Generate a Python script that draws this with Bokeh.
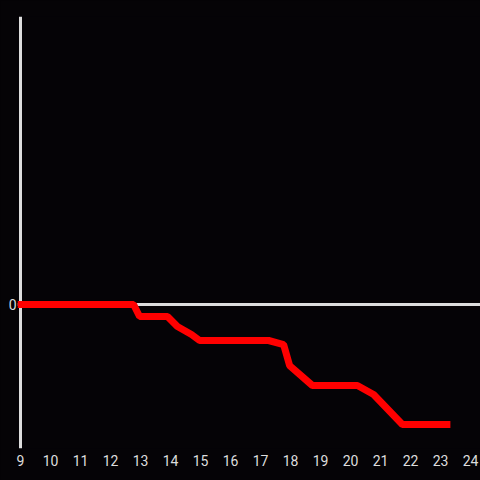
from bokeh.plotting import figure
from bokeh.models import Span, FixedTicker, Range1d
from bokeh.embed import file_html
from bokeh.resources import INLINE

# data
xs = [8.9, 12.77, 12.97, 13.9, 14.23, 14.7, 14.97, 17.27, 17.77, 17.97, 18.73, 20.23, 20.77, 21.73, 23.33]
ys = [0.0, 0.0, -0.083, -0.083, -0.153, -0.208, -0.25, -0.25, -0.278, -0.424, -0.5625, -0.5625, -0.625, -0.833, -0.833]
x_ticks = list(range(9, 25))
y_ticks = [0]

BG = "#050306"
FG = "#dddddd"

p = figure(width=480, height=480, output_backend="svg", toolbar_location=None,
           x_range=Range1d(8.9, 9 + 460 / 30), y_range=Range1d(-1, 2),
           min_border_left=17, min_border_top=16, min_border_right=0, min_border_bottom=32)
p.background_fill_color = BG
p.border_fill_color = BG
p.outline_line_color = None
p.grid.visible = False

zero = Span(location=0, dimension="width", line_color=FG, line_width=3, level="underlay")
p.add_layout(zero)
vline = Span(location=9, dimension="height", line_color=FG, line_width=3, level="underlay")
p.add_layout(vline)

p.line(xs, ys, line_color="#ff0000", line_width=7)

xa = p.xaxis[0]
xa.ticker = FixedTicker(ticks=x_ticks)
xa.axis_line_color = None
xa.major_tick_line_color = None
xa.major_tick_out = 0
xa.minor_tick_line_color = None
xa.major_label_standoff = 6
xa.major_label_text_color = FG
xa.major_label_text_font = "Roboto"
xa.major_label_text_font_size = "14px"

ya = p.yaxis[0]
ya.ticker = FixedTicker(ticks=y_ticks)
ya.axis_line_color = None
ya.major_tick_line_color = None
ya.major_tick_out = 0
ya.minor_tick_line_color = None
ya.major_label_standoff = 1
ya.major_label_text_color = FG
ya.major_label_text_font = "Roboto"
ya.major_label_text_font_size = "14px"

html = file_html(p, INLINE)
html = html.replace("<head>", "<head><style>html,body{background:%s;}</style>" % BG, 1)
open("out.html", "w").write(html)
